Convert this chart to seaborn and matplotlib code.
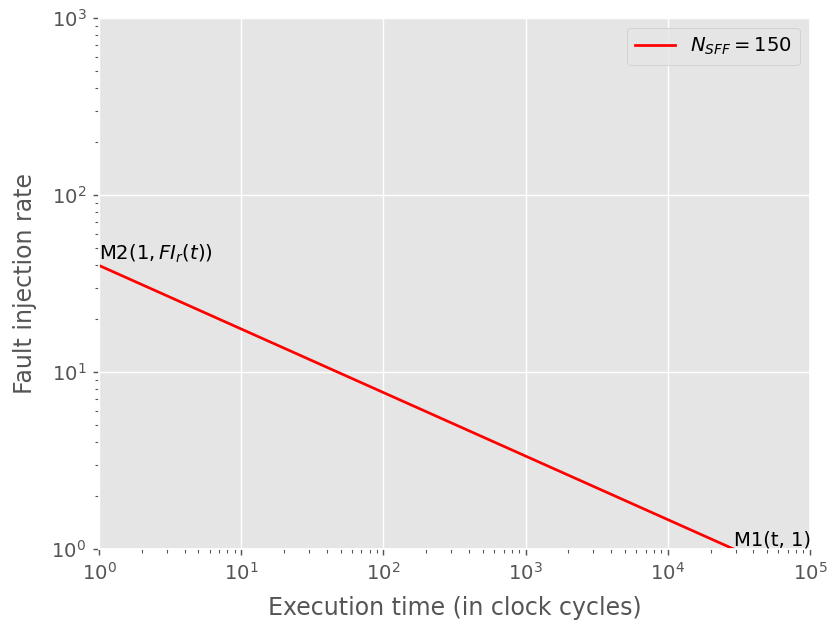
import matplotlib
matplotlib.use("Agg")
import matplotlib.pyplot as plt
import seaborn as sns
import pandas as pd

# Execution time bounds (clock cycles) and the matching fault injection rate
exec_time = [1, 29000]
fault_rate = [40, 1]
n_sff = 150

plt.style.use("ggplot")
plt.rcParams["font.size"] = 10.9
fig, ax = plt.subplots(figsize=(6.4, 4.8), dpi=130)

df = pd.DataFrame({"t": exec_time, "fi": fault_rate})
sns.lineplot(data=df, x="t", y="fi", color="red", linewidth=1.5,
             label=rf"$N_{{SFF}} = {n_sff}$", ax=ax)

ax.set_xscale("log")
ax.set_yscale("log")
ax.set_xlim(1, 1e5)
ax.set_ylim(1, 1e3)
ax.set_xlabel("Execution time (in clock cycles)", labelpad=7)
ax.set_ylabel("Fault injection rate", labelpad=8)

ax.text(exec_time[0], fault_rate[0], r"M2$(1, FI_r(t))$", ha="left", va="bottom",
        color="black", clip_on=False)
ax.text(exec_time[1], fault_rate[1], "M1(t, 1)", ha="left", va="bottom",
        color="black", clip_on=False)

ax.legend(loc="upper right")
fig.subplots_adjust(left=99 / 832, right=810 / 832, top=1 - 18 / 624, bottom=1 - 549 / 624)
fig.savefig("out.png", dpi=130)
